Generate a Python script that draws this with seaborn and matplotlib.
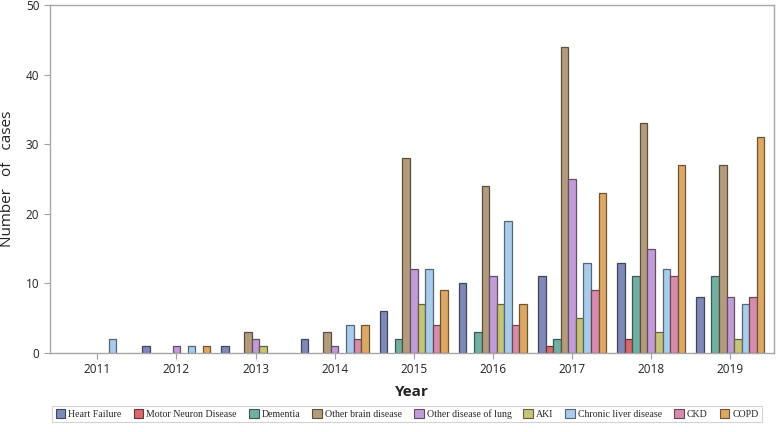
import pandas as pd
import seaborn as sns
import matplotlib.pyplot as plt
import matplotlib.colors as mcolors

years = ['2011', '2012', '2013', '2014', '2015', '2016', '2017', '2018', '2019']
diseases = ['Heart Failure', 'Motor Neuron Disease', 'Dementia', 'Other brain disease',
            'Other disease of lung', 'AKI', 'Chronic liver disease', 'CKD', 'COPD']

heart_failure = [0, 1, 1, 2, 6, 10, 11, 13, 8]
motor_neuron = [0, 0, 0, 0, 0, 0, 1, 2, 0]
dementia = [0, 0, 0, 0, 2, 3, 2, 11, 11]
other_brain = [0, 0, 3, 3, 28, 24, 44, 33, 27]
other_lung = [0, 1, 2, 1, 12, 11, 25, 15, 8]
aki = [0, 0, 1, 0, 7, 7, 5, 3, 2]
chronic_liver = [2, 1, 0, 4, 12, 19, 13, 12, 7]
ckd = [0, 0, 0, 2, 4, 4, 9, 11, 8]
copd = [0, 1, 0, 4, 9, 7, 23, 27, 31]

colors = ['#7F89B8', '#D6686E', '#72AFA2', '#B39C7D', '#C29CD6',
          '#C6C47A', '#A9CCEA', '#D68CAB', '#DDA866']

series = [heart_failure, motor_neuron, dementia, other_brain, other_lung,
          aki, chronic_liver, ckd, copd]
rows = []
for name, vals in zip(diseases, series):
    for y, v in zip(years, vals):
        rows.append({'Year': y, 'Disease': name, 'Cases': v})
df = pd.DataFrame(rows)

sns.set_style('white')
plt.rcParams['font.family'] = ['Open Sans', 'DejaVu Sans']

fig = plt.figure(figsize=(7.77, 4.32), dpi=100)
ax = fig.add_axes([0.064, 0.183, 0.932, 0.805])

sns.barplot(data=df, x='Year', y='Cases', hue='Disease', order=years,
            hue_order=diseases, palette=colors, width=0.86, ax=ax,
            saturation=1, legend=False)

# darker outline for each bar, none for empty ones
for p in ax.patches:
    fc = mcolors.to_rgb(p.get_facecolor())
    if p.get_height() == 0:
        p.set_linewidth(0)
    else:
        p.set_edgecolor(tuple(c * 0.5 for c in fc))
        p.set_linewidth(0.9)

ax.set_ylim(0, 50)
ax.set_yticks([0, 10, 20, 30, 40, 50])
ax.set_xlim(-0.6, 8.55)
ax.set_ylabel('Number   of   cases', fontsize=11, color='#222222', labelpad=8)
ax.set_xlabel('Year', fontsize=11, fontweight='bold', color='#222222', labelpad=6)
ax.tick_params(axis='both', labelsize=8.5, colors='#222222', length=4,
               width=0.8, direction='out', bottom=True, left=True)
ax.tick_params(axis='x', color='#a0a0a0')
ax.tick_params(axis='y', color='#a0a0a0')
for s in ax.spines.values():
    s.set_color('#a8a8a8')
    s.set_linewidth(1)

handles = [plt.Rectangle((0, 0), 1, 1, facecolor=c,
                         edgecolor=tuple(x * 0.5 for x in mcolors.to_rgb(c)), linewidth=0.8)
           for c in colors]
leg = fig.legend(handles, diseases, loc='center', bbox_to_anchor=(0.524, 0.042),
                 ncol=9, frameon=True, fancybox=False,
                 prop={'family': 'Liberation Serif', 'size': 7.1},
                 handlelength=1.0, handleheight=1.0, handletextpad=0.3,
                 columnspacing=1.2, borderpad=0.35)
leg.get_frame().set_edgecolor('#c8c8c8')
leg.get_frame().set_linewidth(0.8)

fig.savefig('out.png', dpi=100)
